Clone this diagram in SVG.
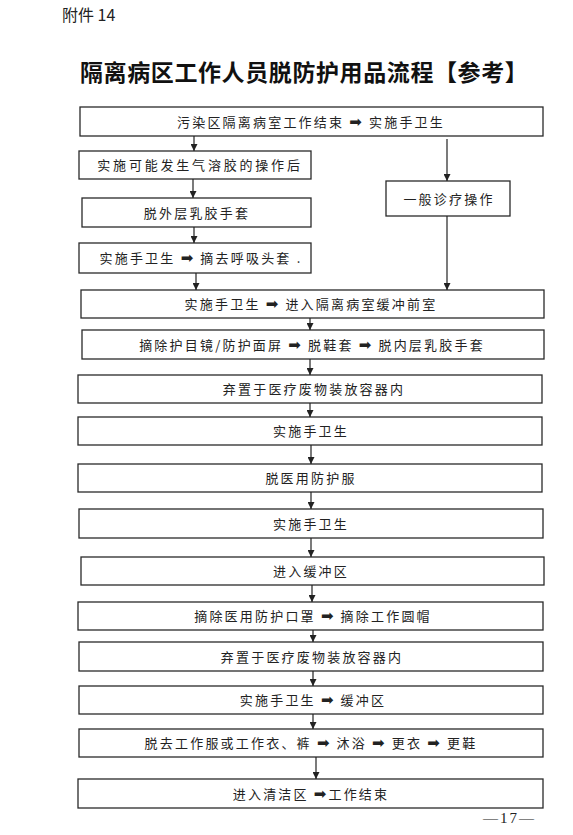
<svg xmlns="http://www.w3.org/2000/svg" width="573" height="835" viewBox="0 0 573 835">
<style>
  .box { fill: #fff; stroke: #2a2a2a; stroke-width: 1.3; }
  .t { font-family: "Noto Sans CJK SC", "Noto Sans", sans-serif; font-size: 13px; letter-spacing: 2.2px; fill: #222; text-anchor: middle; }
  .ar { font-family: "DejaVu Sans", sans-serif; font-size: 15px; letter-spacing: 2px; }
  .conn line { stroke: #222; stroke-width: 1.2; marker-end: url(#ah); }
  .hdr { font-family: "Noto Sans CJK SC", "Noto Sans", sans-serif; font-size: 16px; fill: #222; }
  .title { font-family: "Noto Sans CJK SC", sans-serif; font-size: 23px; font-weight: bold; fill: #111; letter-spacing: 0.6px; }
  .pg { font-family: "Liberation Serif", serif; font-size: 15px; fill: #222; letter-spacing: 2px; }
</style>
<defs>
  <marker id="ah" markerUnits="userSpaceOnUse" markerWidth="7" markerHeight="7" refX="7" refY="3.5" orient="auto">
    <path d="M0,0 L7,3.5 L0,7 z" fill="#222"/>
  </marker>
</defs>
<rect x="0" y="0" width="573" height="835" fill="#fff"/>
<text class="hdr" x="62" y="21">附件 14</text>
<text class="title" x="80" y="81">隔离病区工作人员脱防护用品流程【参考】</text>

<g id="n1"><rect class="box" x="80" y="107" width="463" height="29"/><text class="t" x="311" y="127">污染区隔离病室工作结束  <tspan class="ar">➡</tspan> 实施手卫生</text></g>
<g id="n2"><rect class="box" x="79" y="151" width="232" height="28"/><text class="t" x="200" y="170" style="letter-spacing:2.8px">实施可能发生气溶胶的操作后</text></g>
<g id="n3"><rect class="box" x="82" y="198" width="229" height="29"/><text class="t" x="197" y="218">脱外层乳胶手套</text></g>
<g id="n4"><rect class="box" x="79" y="243" width="232" height="30"/><text class="t" x="201" y="263">实施手卫生 <tspan class="ar">➡</tspan> 摘去呼吸头套 .</text></g>
<g id="nR"><rect class="box" x="386" y="181" width="124" height="35"/><text class="t" x="449" y="204">一般诊疗操作</text></g>
<g id="n5"><rect class="box" x="81" y="290" width="463" height="28"/><text class="t" x="311" y="309">实施手卫生 <tspan class="ar">➡</tspan> 进入隔离病室缓冲前室</text></g>
<g id="n6"><rect class="box" x="82" y="330" width="462" height="29"/><text class="t" x="312" y="350">摘除护目镜/防护面屏 <tspan class="ar">➡</tspan> 脱鞋套 <tspan class="ar">➡</tspan> 脱内层乳胶手套</text></g>
<g id="n7"><rect class="box" x="78" y="375" width="464" height="28"/><text class="t" x="314" y="394">弃置于医疗废物装放容器内</text></g>
<g id="n8"><rect class="box" x="78" y="417" width="464" height="28"/><text class="t" x="311" y="436">实施手卫生</text></g>
<g id="n9"><rect class="box" x="78" y="464" width="464" height="28"/><text class="t" x="311" y="483">脱医用防护服</text></g>
<g id="n10"><rect class="box" x="79" y="509" width="464" height="29"/><text class="t" x="311" y="529">实施手卫生</text></g>
<g id="n11"><rect class="box" x="81" y="557" width="463" height="28"/><text class="t" x="311" y="576">进入缓冲区</text></g>
<g id="n12"><rect class="box" x="78" y="602" width="465" height="28"/><text class="t" x="313" y="621">摘除医用防护口罩 <tspan class="ar">➡</tspan> 摘除工作圆帽</text></g>
<g id="n13"><rect class="box" x="79" y="642" width="464" height="29"/><text class="t" x="312" y="662">弃置于医疗废物装放容器内</text></g>
<g id="n14"><rect class="box" x="79" y="686" width="464" height="28"/><text class="t" x="313" y="705">实施手卫生 <tspan class="ar">➡</tspan> 缓冲区</text></g>
<g id="n15"><rect class="box" x="79" y="729" width="464" height="28"/><text class="t" x="311" y="748">脱去工作服或工作衣、裤 <tspan class="ar">➡</tspan> 沐浴 <tspan class="ar">➡</tspan> 更衣 <tspan class="ar">➡</tspan> 更鞋</text></g>
<g id="n16"><rect class="box" x="78" y="779" width="465" height="29"/><text class="t" x="311" y="799">进入清洁区 <tspan class="ar">➡</tspan>工作结束</text></g>

<g id="connectors" class="conn">
  <line x1="194" y1="136" x2="194" y2="151"/>
  <line x1="193" y1="179" x2="193" y2="198"/>
  <line x1="194" y1="227" x2="194" y2="243"/>
  <line x1="196" y1="273" x2="196" y2="290"/>
  <line x1="447" y1="139" x2="447" y2="181"/>
  <line x1="447" y1="216" x2="447" y2="290"/>
  <line x1="310" y1="318" x2="310" y2="330"/>
  <line x1="310" y1="359" x2="310" y2="375"/>
  <line x1="310" y1="403" x2="310" y2="417"/>
  <line x1="311" y1="445" x2="311" y2="464"/>
  <line x1="311" y1="492" x2="311" y2="509"/>
  <line x1="311" y1="538" x2="311" y2="557"/>
  <line x1="312" y1="585" x2="312" y2="602"/>
  <line x1="313" y1="630" x2="313" y2="642"/>
  <line x1="313" y1="671" x2="313" y2="686"/>
  <line x1="313" y1="714" x2="313" y2="729"/>
  <line x1="316" y1="757" x2="316" y2="779"/>
</g>
<text class="pg" x="483" y="823">—17—</text>
</svg>
